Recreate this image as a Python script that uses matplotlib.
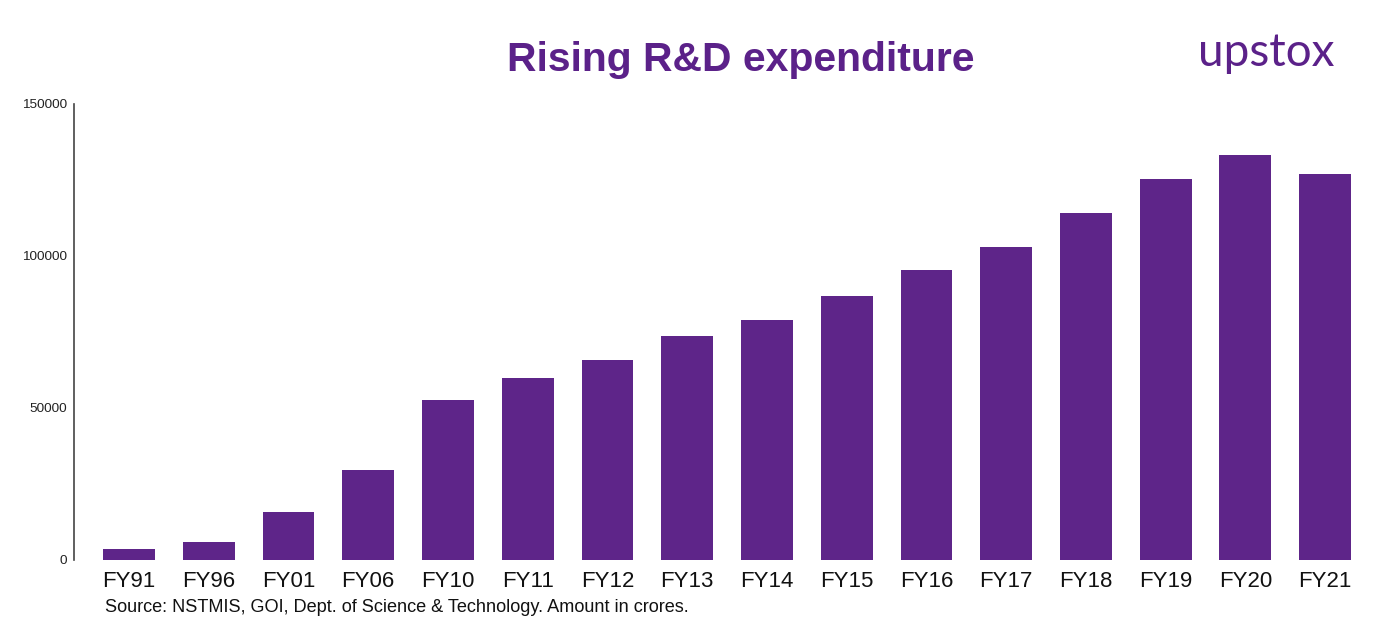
import matplotlib
matplotlib.use("Agg")
import matplotlib.pyplot as plt

categories = ["FY91", "FY96", "FY01", "FY06", "FY10", "FY11", "FY12", "FY13",
              "FY14", "FY15", "FY16", "FY17", "FY18", "FY19", "FY20", "FY21"]
values = [3600, 5800, 15800, 29600, 52600, 59900, 65800, 73700,
          78900, 86800, 95400, 103000, 114100, 125300, 133100, 126900]
yticks = [0, 50000, 100000, 150000]

plt.rcParams['font.family'] = ['Liberation Sans', 'DejaVu Sans']

W, H = 1379, 625
fig = plt.figure(figsize=(W / 100, H / 100), dpi=100)
ax = fig.add_axes([74 / W, (H - 560) / H, (1379 - 74 - 10) / W, (560 - 104) / H])

color = "#5E2589"
x = list(range(len(categories)))
ax.bar(x, values, width=0.65, color=color)

ax.set_ylim(0, 150000)
ax.set_xlim(-0.69, 15.55)
ax.set_yticks(yticks)
ax.set_yticklabels([str(v) for v in yticks], fontsize=9.7, color="#222222")
ax.set_xticks(x)
ax.set_xticklabels(categories, fontsize=16, color="#111111")
ax.tick_params(axis='y', length=0, pad=5)
ax.tick_params(axis='x', length=0, pad=8)
for s in ["top", "right", "bottom"]:
    ax.spines[s].set_visible(False)
ax.spines["left"].set_color("#444444")
ax.spines["left"].set_linewidth(1.2)

fig.text(741 / W, 1 - 60 / H, "Rising R&D expenditure", ha="center", va="center",
         fontsize=29.4, fontweight="bold", color="#5B2189")
fig.text(1266 / W, 1 - 53 / H, "upstox", ha="center", va="center",
         fontsize=33, color="#5B2189", family=["Lato", "DejaVu Sans"])
fig.text(105 / W, 1 - 608 / H,
         "Source: NSTMIS, GOI, Dept. of Science & Technology. Amount in crores.",
         ha="left", va="center", fontsize=13.05, color="#111111")

fig.savefig("out.png", dpi=100, facecolor="white")
